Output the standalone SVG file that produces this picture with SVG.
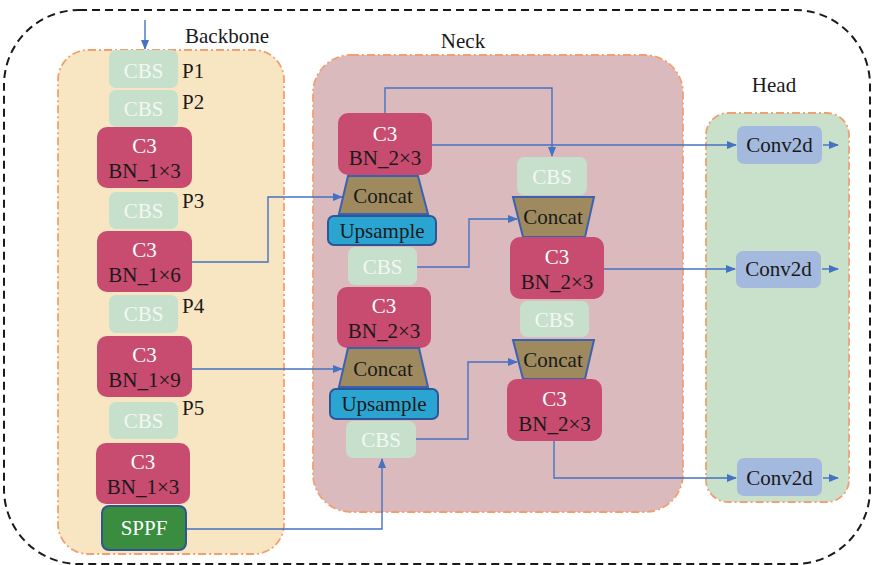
<svg xmlns="http://www.w3.org/2000/svg" width="875" height="565" viewBox="0 0 875 565">
<style>
text{font-family:"Liberation Serif",Tinos,"DejaVu Serif","Noto Serif",serif;font-size:21px;text-anchor:middle}
.c3{fill:#c84b70}
.cbs{fill:#c7e0cb}
.cbst{fill:#f2f8f3}
.w{fill:#ffffff}
.k{fill:#1a1a1a}
.cat{fill:#9e8a5e;stroke:#3a62b0;stroke-width:2}
.up{fill:#2aa5d2;stroke:#2f5597;stroke-width:2}
.conv{fill:#a3b9dd}
.lbl{fill:#1a1a1a;text-anchor:start}
.panel{stroke:#f0a070;stroke-width:1.8;stroke-dasharray:8,3,2,3}
.ln{fill:none;stroke:#4472c4;stroke-width:1.4;marker-end:url(#ah)}
</style>
<defs>
<marker id="ah" markerWidth="10" markerHeight="8" refX="9" refY="4" orient="auto" markerUnits="userSpaceOnUse">
<path d="M0,0 L10,4 L0,8 Z" fill="#4472c4"/>
</marker>
</defs>
<rect width="875" height="565" fill="#ffffff"/>
<rect x="4" y="10" width="866" height="554" rx="75" fill="none" stroke="#1a1a1a" stroke-width="2" stroke-dasharray="8,5"/>

<g id="backbone-panel">
<rect class="panel" x="58" y="50" width="226" height="504" rx="30" fill="#f8e6c2"/>
<text class="lbl" x="185" y="43">Backbone</text>
</g>
<g id="neck-panel">
<rect class="panel" x="313" y="55" width="370" height="457" rx="38" fill="#dbbabd"/>
<text x="463" y="48" class="k">Neck</text>
</g>
<g id="head-panel">
<rect class="panel" x="706" y="113" width="143" height="389" rx="22" fill="#c9e0ca"/>
<text x="774" y="92" class="k">Head</text>
</g>

<g id="connectors">
<path class="ln" d="M145,20 V49"/>
<path class="ln" d="M192,262 H268 V197 H342"/>
<path class="ln" d="M192,369 H342"/>
<path class="ln" d="M186,529 H382 V459"/>
<path class="ln" d="M385,113 V88 H552 V156"/>
<path class="ln" d="M432,145 H736"/>
<path class="ln" d="M417,267 H469 V219 H517"/>
<path class="ln" d="M416,439 H468 V362 H517"/>
<path class="ln" d="M604,269 H735"/>
<path class="ln" d="M554,441 V478 H736"/>
<path class="ln" d="M823,145 H838"/>
<path class="ln" d="M822,269 H838"/>
<path class="ln" d="M823,478 H838"/>
</g>

<g id="bb-cbs1"><rect class="cbs" x="109" y="50" width="69" height="38" rx="7"/><text class="cbst" x="143.5" y="78">CBS</text></g>
<text class="lbl" x="182" y="78">P1</text>
<g id="bb-cbs2"><rect class="cbs" x="109" y="90" width="69" height="37" rx="7"/><text class="cbst" x="143.5" y="116">CBS</text></g>
<text class="lbl" x="182" y="109">P2</text>
<g id="bb-c3-1"><rect class="c3" x="97" y="127" width="95" height="61" rx="10"/><text class="w" x="144.5" y="153">C3</text><text class="k" x="144.5" y="178">BN_1×3</text></g>
<g id="bb-cbs3"><rect class="cbs" x="109" y="192" width="69" height="37" rx="7"/><text class="cbst" x="143.5" y="218">CBS</text></g>
<text class="lbl" x="182" y="208">P3</text>
<g id="bb-c3-2"><rect class="c3" x="97" y="231" width="95" height="61" rx="10"/><text class="w" x="144.5" y="257">C3</text><text class="k" x="144.5" y="282">BN_1×6</text></g>
<g id="bb-cbs4"><rect class="cbs" x="109" y="295" width="69" height="38" rx="7"/><text class="cbst" x="143.5" y="321">CBS</text></g>
<text class="lbl" x="182" y="313">P4</text>
<g id="bb-c3-3"><rect class="c3" x="97" y="336" width="95" height="61" rx="10"/><text class="w" x="144.5" y="362">C3</text><text class="k" x="144.5" y="387">BN_1×9</text></g>
<g id="bb-cbs5"><rect class="cbs" x="109" y="402" width="69" height="37" rx="7"/><text class="cbst" x="143.5" y="428">CBS</text></g>
<text class="lbl" x="182" y="415">P5</text>
<g id="bb-c3-4"><rect class="c3" x="96" y="443" width="94" height="61" rx="10"/><text class="w" x="143" y="469">C3</text><text class="k" x="143" y="494">BN_1×3</text></g>
<g id="bb-sppf"><rect x="102" y="506" width="84" height="44" rx="7" fill="#3a8c3f" stroke="#2f5597" stroke-width="2"/><text class="w" x="144" y="535">SPPF</text></g>

<g id="nk-c3-1"><rect class="c3" x="338" y="113" width="94" height="62" rx="10"/><text class="w" x="385" y="141">C3</text><text class="k" x="385" y="165">BN_2×3</text></g>
<g id="nk-concat-1"><polygon class="cat" points="348,176 418,176 428,214 339,214"/><text class="k" x="383" y="203">Concat</text></g>
<g id="nk-up-1"><rect class="up" x="328" y="216" width="108" height="29" rx="6"/><text class="k" x="382" y="238">Upsample</text></g>
<g id="nk-cbs-1"><rect class="cbs" x="348" y="247" width="69" height="38" rx="7"/><text class="cbst" x="382.5" y="274">CBS</text></g>
<g id="nk-c3-2"><rect class="c3" x="337" y="287" width="94" height="61" rx="10"/><text class="w" x="384" y="313">C3</text><text class="k" x="384" y="338">BN_2×3</text></g>
<g id="nk-concat-2"><polygon class="cat" points="348,348 419,348 428,387 339,387"/><text class="k" x="383" y="376">Concat</text></g>
<g id="nk-up-2"><rect class="up" x="330" y="389" width="108" height="30" rx="6"/><text class="k" x="384" y="411">Upsample</text></g>
<g id="nk-cbs-2"><rect class="cbs" x="346" y="421" width="70" height="37" rx="7"/><text class="cbst" x="381" y="447">CBS</text></g>

<g id="nk-cbs-3"><rect class="cbs" x="517" y="157" width="70" height="38" rx="7"/><text class="cbst" x="552" y="184">CBS</text></g>
<g id="nk-concat-3"><polygon class="cat" points="513,197 594,197 585,237 523,237"/><text class="k" x="553" y="224">Concat</text></g>
<g id="nk-c3-3"><rect class="c3" x="510" y="237" width="94" height="62" rx="10"/><text class="w" x="557" y="264">C3</text><text class="k" x="557" y="289">BN_2×3</text></g>
<g id="nk-cbs-4"><rect class="cbs" x="520" y="301" width="69" height="36" rx="7"/><text class="cbst" x="554.5" y="327">CBS</text></g>
<g id="nk-concat-4"><polygon class="cat" points="513,340 594,340 585,379 523,379"/><text class="k" x="553" y="367">Concat</text></g>
<g id="nk-c3-4"><rect class="c3" x="507" y="379" width="95" height="62" rx="10"/><text class="w" x="554.5" y="406">C3</text><text class="k" x="554.5" y="431">BN_2×3</text></g>

<g id="hd-conv-1"><rect class="conv" x="737" y="126" width="85" height="38" rx="7"/><text class="k" x="779.5" y="152">Conv2d</text></g>
<g id="hd-conv-2"><rect class="conv" x="736" y="251" width="85" height="37" rx="7"/><text class="k" x="778.5" y="276">Conv2d</text></g>
<g id="hd-conv-3"><rect class="conv" x="737" y="458" width="85" height="38" rx="7"/><text class="k" x="779.5" y="485">Conv2d</text></g>
</svg>
